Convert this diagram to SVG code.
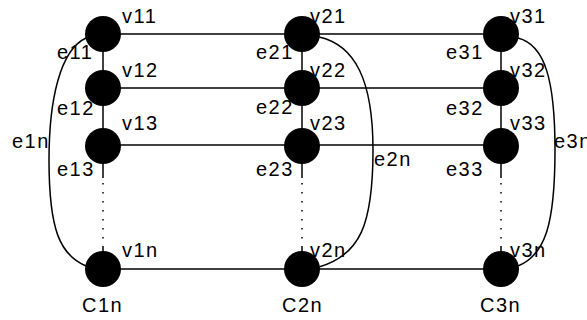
<svg xmlns="http://www.w3.org/2000/svg" width="587" height="320" viewBox="0 0 587 320">
<style>
text{font-family:"Liberation Sans",Arial,sans-serif;font-size:20px;letter-spacing:1.5px;fill:#000}
.ln{stroke:#000;stroke-width:1.5;fill:none}
.dt{stroke:#000;stroke-width:1.5;fill:none;stroke-dasharray:1.5 7.5}
.nd{fill:#000}
</style>
<rect width="587" height="320" fill="#fff"/>
<g id="connectors">
<line class="ln" x1="103" y1="34" x2="501" y2="34"/>
<line class="ln" x1="103" y1="88" x2="501" y2="88"/>
<line class="ln" x1="103" y1="145" x2="501" y2="145"/>
<line class="ln" x1="103" y1="269" x2="501" y2="269"/>
<line class="ln" x1="103" y1="34" x2="103" y2="178"/>
<line class="ln" x1="302" y1="34" x2="302" y2="178"/>
<line class="ln" x1="501" y1="34" x2="501" y2="178"/>
<line class="dt" x1="103" y1="183" x2="103" y2="245"/>
<line class="dt" x1="302" y1="183" x2="302" y2="245"/>
<line class="dt" x1="501" y1="183" x2="501" y2="245"/>
<line class="ln" x1="103" y1="246" x2="103" y2="269"/>
<line class="ln" x1="302" y1="246" x2="302" y2="269"/>
<line class="ln" x1="501" y1="246" x2="501" y2="269"/>
<path class="ln" d="M86,38 C60,50 49,100 49,160 C49,230 60,255 86,266"/>
<path class="ln" d="M319,37 C355,45 373,80 373,150 C373,225 360,255 319,267"/>
<path class="ln" d="M518,38 C545,45 555,80 555,150 C555,225 545,255 518,266"/>
<text x="57" y="59">e11</text>
<text x="57" y="115">e12</text>
<text x="57" y="176">e13</text>
<text x="12" y="148">e1n</text>
<text x="256" y="59">e21</text>
<text x="256" y="114">e22</text>
<text x="256" y="176">e23</text>
<text x="374" y="166">e2n</text>
<text x="446" y="59">e31</text>
<text x="446" y="115">e32</text>
<text x="446" y="176">e33</text>
<text x="554" y="148">e3n</text>
</g>
<g id="v11"><text x="122" y="23">v11</text><circle class="nd" cx="103" cy="34" r="18"/></g>
<g id="v12"><text x="122" y="77">v12</text><circle class="nd" cx="103" cy="88" r="18"/></g>
<g id="v13"><text x="122" y="130">v13</text><circle class="nd" cx="103" cy="146" r="18"/></g>
<g id="v1n"><text x="122" y="257">v1n</text><circle class="nd" cx="103" cy="269" r="18"/><text x="82" y="312">C1n</text></g>
<g id="v21"><text x="310" y="23">v21</text><circle class="nd" cx="302" cy="34" r="18"/></g>
<g id="v22"><text x="310" y="77">v22</text><circle class="nd" cx="302" cy="88" r="18"/></g>
<g id="v23"><text x="310" y="130">v23</text><circle class="nd" cx="302" cy="146" r="18"/></g>
<g id="v2n"><text x="310" y="257">v2n</text><circle class="nd" cx="302" cy="269" r="18"/><text x="282" y="312">C2n</text></g>
<g id="v31"><text x="510" y="23">v31</text><circle class="nd" cx="501" cy="34" r="18"/></g>
<g id="v32"><text x="510" y="77">v32</text><circle class="nd" cx="501" cy="88" r="18"/></g>
<g id="v33"><text x="510" y="130">v33</text><circle class="nd" cx="501" cy="146" r="18"/></g>
<g id="v3n"><text x="510" y="257">v3n</text><circle class="nd" cx="501" cy="269" r="18"/><text x="480" y="312">C3n</text></g>
</svg>
